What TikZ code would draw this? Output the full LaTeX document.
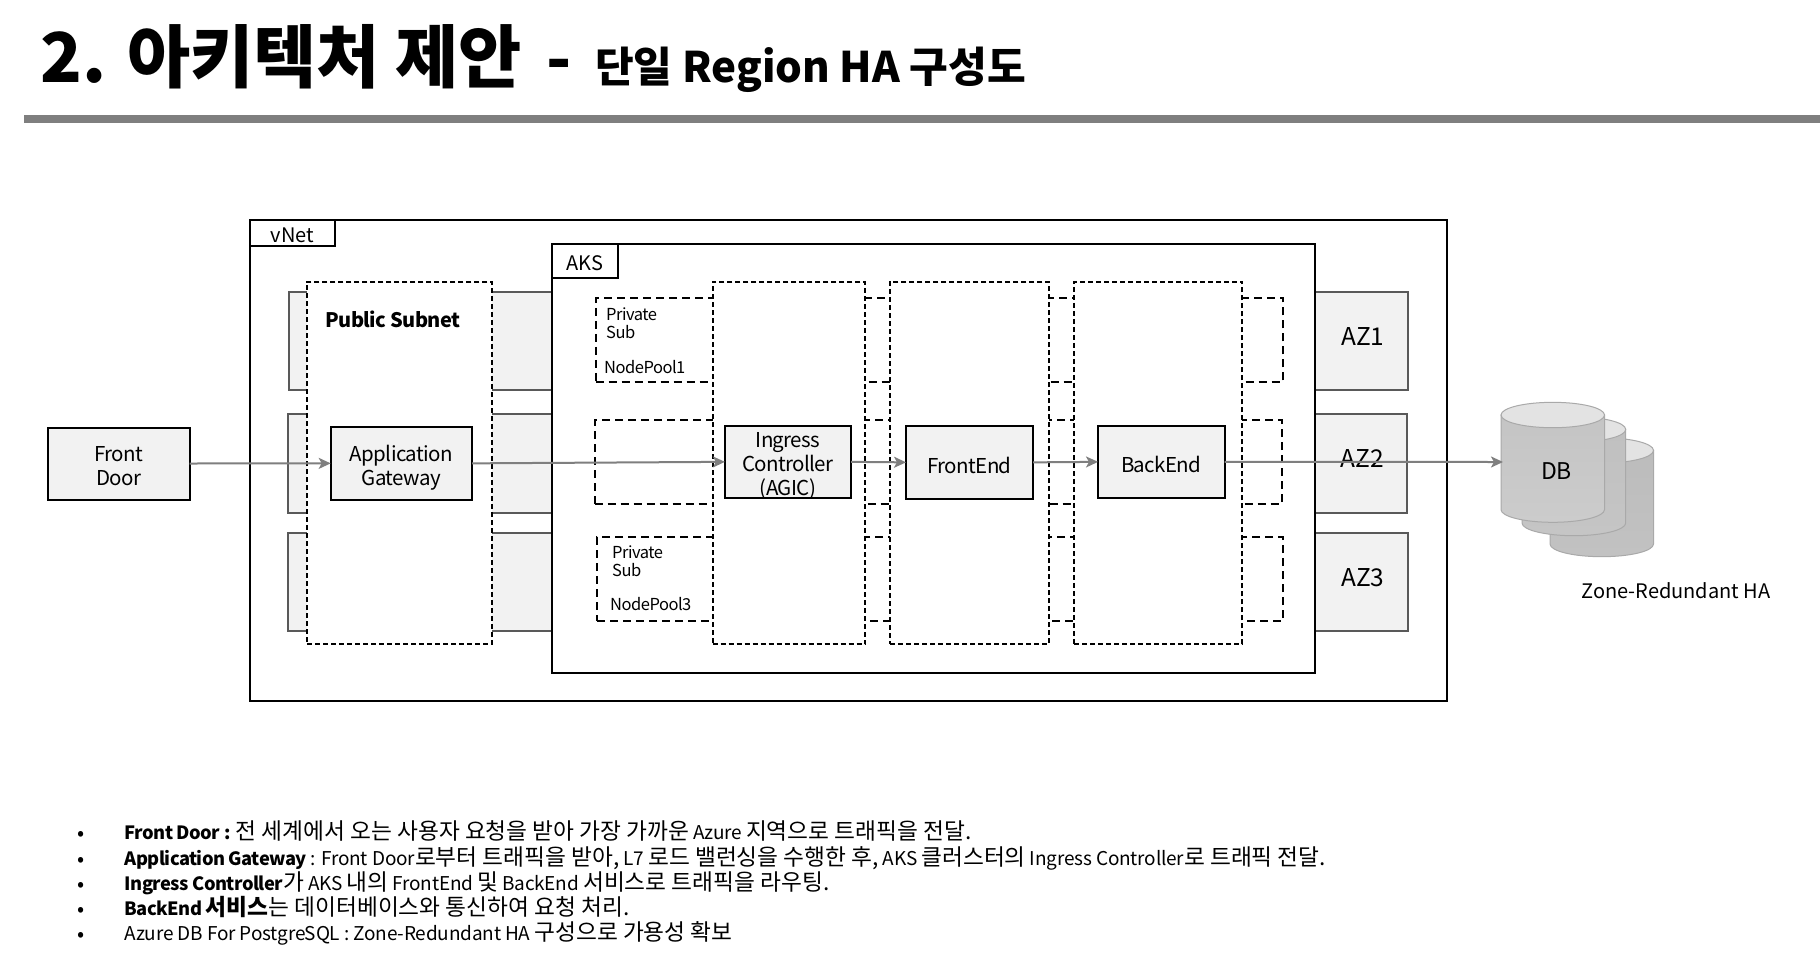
\documentclass[tikz,border=0pt]{standalone}
\usepackage{fontspec}
\setmainfont{Noto Sans CJK KR}
\newfontfamily\tight{Noto Sans CJK KR}[LetterSpace=-3]
\newfontfamily\snug{Noto Sans CJK KR}[LetterSpace=-1]
\usetikzlibrary{fit,arrows.meta}
\definecolor{boxfill}{HTML}{F2F2F2}
\definecolor{azedge}{HTML}{595959}
\definecolor{arrowgray}{HTML}{7F7F7F}
\definecolor{cyledge}{HTML}{A9A9A9}
\definecolor{cyltop}{HTML}{E3E3E3}
\newcommand\fs[1]{\fontsize{#1}{1.1\dimexpr #1pt\relax}\selectfont}
\newcommand\fsl[2]{\fontsize{#1}{#2}\selectfont}
\newcommand\K[1]{{\rmfamily\fontsize{22.7}{24}\selectfont #1}}
\newcommand\Bo[1]{{\tight\bfseries\fontsize{18.3}{24}\selectfont #1}}
\newcommand\cylinder[6]{%
  \pgfmathsetmacro\cxm{(#1+#2)/2}\pgfmathsetmacro\crx{(#2-#1)/2}
  \pgfmathsetmacro\cry{12.7}\pgfmathsetmacro\cyt{#3+\cry}\pgfmathsetmacro\cyb{#4-\cry}
  \pgfmathsetmacro\cyk{\cyb+0.5523*\cry}\pgfmathsetmacro\cxa{\cxm-0.5523*\crx}\pgfmathsetmacro\cxb{\cxm+0.5523*\crx}
  \draw[cyledge,line width=1pt,top color=#5,bottom color=#6]
    (#1,\cyt) -- (#1,\cyb) .. controls (#1,\cyk) and (\cxa,#4) .. (\cxm,#4)
    .. controls (\cxb,#4) and (#2,\cyk) .. (#2,\cyb) -- (#2,\cyt) -- cycle;
  \draw[cyledge,line width=1pt,fill=cyltop] (\cxm,\cyt) ellipse [x radius=\crx,y radius=\cry];
}
\definecolor{cfa}{HTML}{C4C4C4}\definecolor{cfb}{HTML}{CCCCCC}
\definecolor{cma}{HTML}{C0C0C0}\definecolor{cmb}{HTML}{C5C5C5}
\definecolor{cba}{HTML}{BCBCBC}\definecolor{cbb}{HTML}{C2C2C2}
\tikzset{
  x=1pt,y=-1pt,
  box/.style={draw=black,line width=2pt,fill=boxfill,inner sep=0pt,outer sep=0pt},
  azbox/.style={draw=azedge,line width=2pt,fill=boxfill,inner sep=0pt,outer sep=0pt},
  frame/.style={draw=black,line width=2pt,fill=white,inner sep=0pt,outer sep=0pt},
  tier/.style={draw=black,line width=2pt,fill=white,inner sep=0pt,outer sep=0pt,dash pattern=on 5pt off 3pt},
  poolbox/.style={draw=black,line width=2pt,fill=white,inner sep=0pt,outer sep=0pt,dash pattern=on 8pt off 5pt},
  txt/.style={inner sep=0pt,align=center,text=black},
  lbl/.style={inner sep=0pt,align=center,text=black,font=\tight\fsl{20.5}{24}},
  ltxt/.style={inner sep=0pt,align=left,anchor=west,text=black},
  bul/.style={inner sep=0pt,anchor=base west,text=black,font=\snug\fs{19}},
  dot/.style={inner sep=0pt,anchor=base west,text=black,font=\fs{21}},
  flow/.style={draw=arrowgray,line width=2pt,-{Stealth[length=12pt,width=11pt,inset=3pt]}},
}
\begin{document}
\begin{tikzpicture}
\useasboundingbox (0,0) rectangle (1820,956);
\fill[white] (0,0) rectangle (1820,956);
% title
\node[txt,anchor=base west,font=\fs{68.7}\bfseries] (t1) at (40,82) {2. 아키텍처 제안};
\node[txt,anchor=base west,font=\fs{66}\bfseries] (t2) at (546,82) {-};
\node[txt,anchor=base west,font=\fs{42.1}\bfseries] (t3) at (595,82) {단일 Region HA 구성도};
\fill[arrowgray] (24,115) rectangle (1820,123);
% vNet
\node[frame,fit={(250,220)(1446.5,700.5)}] (vnet) {};
\node[frame,fit={(250,220)(335,245.7)},label={[txt,font=\fs{20},yshift=-2pt]center:vNet}] (vnettab) {};
% AZ
\node[azbox,fit={(289,291.7)(1408,390)}] (az1) {};
\node[azbox,fit={(288,414)(1407,513)}] (az2) {};
\node[azbox,fit={(288,532.5)(1408,631)}] (az3) {};
% AKS
\node[frame,fit={(551.7,244)(1315,672.6)}] (aks) {};
\node[frame,fit={(551.7,244)(618,278)},label={[txt,font=\fs{20},yshift=-2.5pt]center:AKS}] (akstab) {};
\node[txt,font=\fs{24.5}] (az1t) at (1363,337) {AZ1};
\node[txt,font=\fs{24.5}] (az2t) at (1362.5,459) {AZ2};
\node[txt,font=\fs{24.5}] (az3t) at (1363,578) {AZ3};
% private subnets
\node[poolbox,fit={(595.7,297.7)(1283,382)}] (p1) {};
\node[poolbox,fit={(594.7,420)(1281.7,504)}] (p2) {};
\node[poolbox,fit={(597,537)(1283,621)}] (p3) {};
% tiers
\node[tier,fit={(307,281.7)(492,644)}] (pub) {};
\node[tier,fit={(712.6,281.7)(865.3,644)}] (ingt) {};
\node[tier,fit={(890,281.7)(1049,644)}] (fet) {};
\node[tier,fit={(1074,281.7)(1242.3,644)}] (bet) {};
\node[txt,anchor=center,font=\tight\fs{20}\bfseries] (pubt) at (393,319) {Public Subnet};
% pool labels
\node[ltxt,font=\tight\fsl{16.5}{18}] (pl1) at (606,323.7) {Private\\Sub};
\node[ltxt,font=\tight\fs{16.5}] (pl1b) at (604,367) {NodePool1};
\node[ltxt,font=\tight\fsl{16.5}{18}] (pl3) at (612,561.5) {Private\\Sub};
\node[ltxt,font=\tight\fs{16.5}] (pl3b) at (610,604.5) {NodePool3};
% boxes
\node[box,fit={(47.7,427.5)(189.7,499.5)},label={[lbl,yshift=-3pt]center:Front\\Door}] (fd) {};
\node[box,fit={(330.7,426.7)(472,500)},label={[lbl,yshift=-4.5pt]center:Application\\Gateway}] (agw) {};
\node[box,fit={(724.9,425.7)(851,498)},label={[lbl,yshift=-4.6pt]center:Ingress\\Controller\\(AGIC)}] (ing) {};
\node[box,fit={(906,425.7)(1033,499)},label={[lbl,yshift=-3.5pt]center:FrontEnd}] (fe) {};
\node[box,fit={(1098,425.7)(1224.5,498)},label={[lbl,yshift=-2.5pt]center:BackEnd}] (be) {};
% DB
\cylinder{1550}{1653.5}{437.7}{556.7}{cba}{cbb}
\cylinder{1522}{1625.7}{416.7}{535.7}{cma}{cmb}
\cylinder{1501}{1604.5}{402.3}{522.3}{cfa}{cfb}
\node[txt,font=\fs{23}] (db) at (1556.5,471) {DB};
\coordinate (dbin) at (1503,462);
\node[txt,font=\fs{20}] (zr) at (1676,591) {Zone-Redundant HA};
% connectors
\draw[flow] (fd.east) -- (agw.west);
\draw[flow] (agw.east) -- (ing.west);
\draw[flow] (ing.east) -- (fe.west);
\draw[flow] (fe.east) -- (be.west);
\draw[flow] (be.east) -- (dbin);
% bullets
\foreach \yy/\nm in {840/b1,866/b2,891/b3,916/b4,941/b5}{\node[dot] (\nm) at (77,\yy) {•};}
\node[bul] (l1) at (124.5,839) {\Bo{Front Door :} \K{전 세계에서 오는 사용자 요청을 받아 가장 가까운} Azure \K{지역으로 트래픽을 전달.}};
\node[bul] (l2) at (124.5,865) {\Bo{Application Gateway} : Front Door\K{로부터 트래픽을 받아,} L7 \K{로드 밸런싱을 수행한 후,} AKS \K{클러스터의} Ingress Controller\K{로 트래픽 전달.}};
\node[bul] (l3) at (124.5,890) {\Bo{Ingress Controller}\K{가} AKS \K{내의} FrontEnd \K{및} BackEnd \K{서비스로 트래픽을 라우팅.}};
\node[bul] (l4) at (124.5,915) {\Bo{BackEnd \K{서비스}}\K{는 데이터베이스와 통신하여 요청 처리.}};
\node[bul] (l5) at (124.5,940) {Azure DB For PostgreSQL : Zone-Redundant HA \K{구성으로 가용성 확보}};
\end{tikzpicture}
\end{document}
